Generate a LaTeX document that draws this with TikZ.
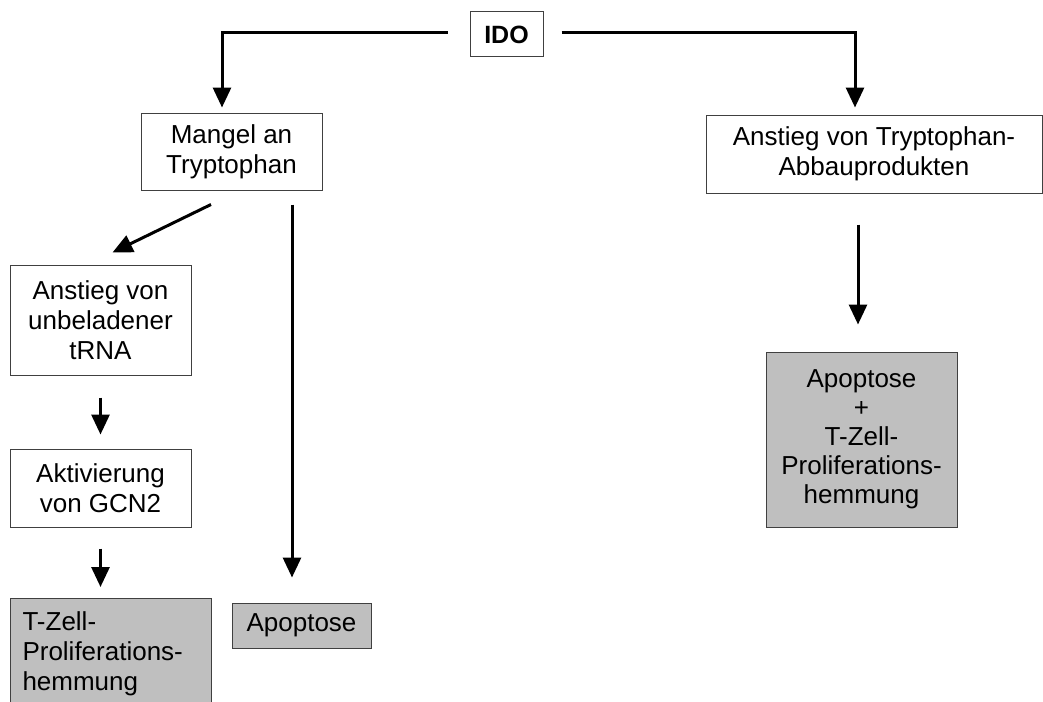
\documentclass[tikz,border=0pt]{standalone}
\usepackage{fontspec}
\setmainfont{Liberation Sans}
\usetikzlibrary{arrows.meta}
\begin{document}
\begin{tikzpicture}[x=1pt,y=-1pt,
  box/.style={draw=black!75, line width=1pt, inner sep=0pt, align=center,
    font=\fontsize{26}{30}\selectfont},
  graybox/.style={box, fill=black!25},
  arr/.style={line width=3pt, -{Triangle[width=18pt,length=20pt]}}]
\useasboundingbox (0,0) rectangle (1043,701);
\clip (0,0) rectangle (1043,701);
\fill[white] (0,0) rectangle (1043,701);

\node[box, minimum width=73pt, minimum height=45pt, font=\fontsize{25}{29}\selectfont\bfseries] (ido) at (506.5,34.5) {IDO};
\node[box, minimum width=181pt, minimum height=77pt] (mangel) at (231.5,151.5) {Mangel an\\Tryptophan};
\node[box, minimum width=336pt, minimum height=78pt] (abbau) at (874,154) {Anstieg von Tryptophan-\\Abbauprodukten};
\node[box, minimum width=181pt, minimum height=110pt] (trna) at (100.5,320) {Anstieg von\\unbeladener\\tRNA};
\node[box, minimum width=181pt, minimum height=78pt] (gcn) at (100.5,488) {Aktivierung\\von GCN2};
\node[graybox, anchor=north west, minimum width=201pt, text width=177pt, inner xsep=12pt, inner ysep=13pt, align=left] (tzell) at (10,598) {T-Zell-\\Proliferations-\\hemmung};
\node[graybox, minimum width=139pt, minimum height=45pt] (apop) at (301.5,625.5) {Apoptose};
\node[graybox, minimum width=191pt, minimum height=175pt, font=\fontsize{26}{29}\selectfont] (apoptz) at (861.5,439.5) {Apoptose\\+\\T-Zell-\\Proliferations-\\hemmung};

\coordinate (c1) at (222,33);
\coordinate (c2) at (855,33);
\draw[arr] ([shift={(-22,0)}]ido.west |- c1) -- (c1) -- ([shift={(0,-5)}]c1 |- mangel.north);
\draw[arr] ([shift={(18,0)}]ido.east |- c2) -- (c2) -- ([shift={(0,-7)}]c2 |- abbau.north);
\draw[arr] ([shift={(-20.5,14)}]mangel.south) -- ([shift={(12,-12)}]trna.north);
\draw[arr] ([shift={(60.5,14)}]mangel.south) -- ([shift={(-9.5,-25)}]apop.north);
\draw[arr] ([shift={(0,22)}]trna.south) -- ([shift={(0,-14)}]gcn.north);
\draw[arr] ([shift={(0,21)}]gcn.south) -- ([shift={(-10.5,-11)}]tzell.north);
\draw[arr] ([shift={(-16,31)}]abbau.south) -- ([shift={(-3.5,-27)}]apoptz.north);
\end{tikzpicture}
\end{document}
